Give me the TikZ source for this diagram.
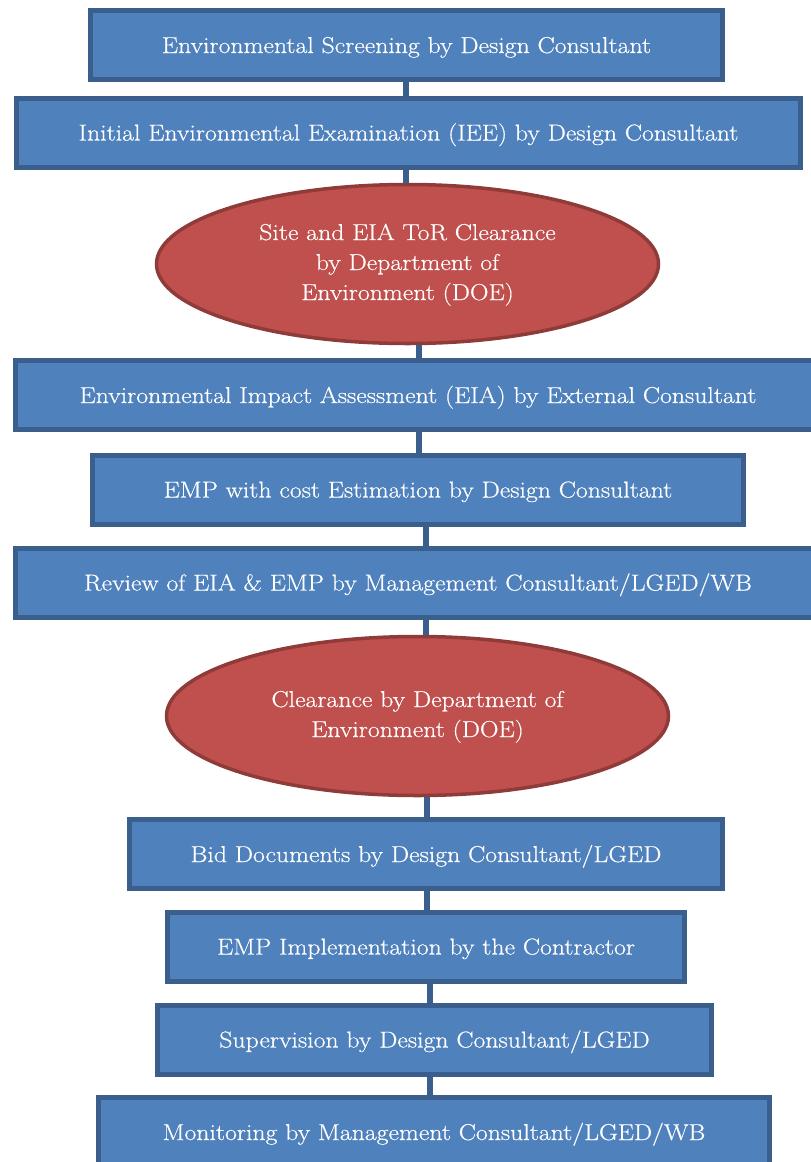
\documentclass[tikz,border=0pt]{standalone}
\usepackage{fontspec}
\setmainfont{Latin Modern Roman}[FakeStretch=1.12, FakeBold=0.5]
\usepackage{tikz}
\usetikzlibrary{shapes.geometric}
\definecolor{boxblue}{HTML}{4F81BD}
\definecolor{boxedge}{HTML}{3A5F8D}
\definecolor{ovalred}{HTML}{C0504D}
\definecolor{ovaledge}{HTML}{8E3B39}

\begin{document}
\begin{tikzpicture}[x=1pt,y=-1pt,
  box/.style={draw=boxedge, fill=boxblue, line width=5pt, rectangle, inner sep=0pt,
    minimum height=69, text height=22, text depth=6, text=white, font=\fontsize{23}{30}\selectfont},
  oval/.style={draw=ovaledge, fill=ovalred, line width=3.5pt, ellipse, inner sep=0pt,
    minimum width=502, minimum height=159, text=white, align=center, font=\fontsize{23}{30}\selectfont},
  link/.style={draw=boxedge, line width=6pt}]
\useasboundingbox (0,0) rectangle (811,1162);

\node (scr) at (406.5,45)[box, minimum width=632]{Environmental Screening by Design Consultant};
\node (iee) at (408.5,132.5)[box, minimum width=784]{Initial Environmental Examination (IEE) by Design Consultant};
\node (tor) at (407.5,264)[oval]{\raisebox{-4pt}{\begin{tabular}{c}Site and EIA ToR Clearance\\by Department of\\Environment (DOE)\end{tabular}}};
\node (eia) at (418,395)[box, minimum width=805]{Environmental Impact Assessment (EIA) by External Consultant};
\node (emp) at (418,489.5)[box, minimum width=651]{EMP with cost Estimation by Design Consultant};
\node (rev) at (418,582.5)[box, minimum width=805]{Review of EIA \& EMP by Management Consultant/LGED/WB};
\node (doe) at (417.5,716)[oval]{\raisebox{-2pt}{\begin{tabular}{c}Clearance by Department of\\Environment (DOE)\end{tabular}}};
\node (bid) at (426,854)[box, minimum width=593]{Bid Documents by Design Consultant/LGED};
\node (imp) at (426,946.5)[box, minimum width=517]{EMP Implementation by the Contractor};
\node (sup) at (434.5,1039.5)[box, minimum width=554]{Supervision by Design Consultant/LGED};
\node (mon) at (434,1132)[box, minimum width=671]{Monitoring by Management Consultant/LGED/WB};

% connectors
\foreach \a/\b/\x in {scr/iee/406, iee/tor/406, tor/eia/419, eia/emp/419, emp/rev/426,
    rev/doe/426, doe/bid/427, bid/imp/427, imp/sup/430, sup/mon/430}
  \draw[link] (\x,0 |- \a.south) -- (\x,0 |- \b.north);

\end{tikzpicture}
\end{document}
